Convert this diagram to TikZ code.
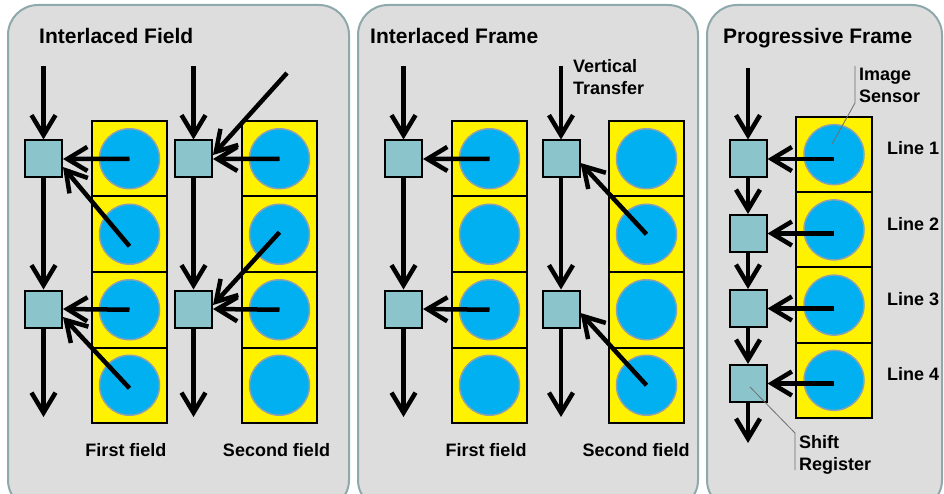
\documentclass[tikz,border=0pt]{standalone}
\usepackage{fontspec}
\setmainfont{Liberation Sans}
\usetikzlibrary{arrows.meta}
\definecolor{panelfill}{RGB}{221,221,221}
\definecolor{paneldraw}{RGB}{143,168,172}
\definecolor{regfill}{RGB}{140,196,204}
\definecolor{sensorfill}{RGB}{0,176,240}
\definecolor{sensordraw}{RGB}{140,160,175}
\definecolor{leader}{RGB}{110,110,110}
\begin{document}
\begin{tikzpicture}[x=1pt,y=-1pt,
 panel/.style={draw=paneldraw, fill=panelfill, line width=2pt, rounded corners=30pt},
 reg/.style={draw=black, fill=regfill, line width=2pt, minimum size=37pt, inner sep=0pt},
 cell/.style={draw=black, fill=yellow, line width=2pt, minimum size=75.5pt, inner sep=0pt},
 sensor/.style={circle, draw=sensordraw, fill=sensorfill, line width=1.5pt, minimum size=60pt, inner sep=0pt},
 flow/.style={line width=4.5pt, -{Straight Barb[length=20pt,width=24pt,line width=4.5pt]}},
 title/.style={font=\fontsize{21}{25}\selectfont\bfseries, anchor=base west, inner sep=0pt},
 lab/.style={font=\fontsize{18}{22}\selectfont\bfseries, inner sep=0pt},
 leadline/.style={draw=leader, line width=0.8pt}]
\useasboundingbox (0,0) rectangle (944,494);
\begin{scope}
\clip (0,0) rectangle (944,494);
\draw[panel] (8,5) rectangle (349,510);
\draw[panel] (358,5) rectangle (698,510);
\draw[panel] (707,5) rectangle (942,510);

% ---------- Panel 1: Interlaced Field ----------
\node[title] (t1) at (39,43.5) {Interlaced Field};
\foreach \i in {1,...,4} {
  \node[cell] (ca\i) at (129.5,{121+75.5*(\i-0.5)}) {};
  \node[sensor] (sa\i) at (ca\i.center) {};
  \node[cell] (cb\i) at (279.5,{121+75.5*(\i-0.5)}) {};
  \node[sensor] (sb\i) at (cb\i.center) {};
}
\node[reg] (a1) at (43.5,159) {};
\node[reg] (a2) at (43.5,309) {};
\node[reg] (b1) at (193.5,159) {};
\node[reg] (b2) at (193.5,309) {};
\coordinate (ta) at (43.5,66);
\coordinate (ea) at (43.5,417);
\coordinate (tb) at (193.5,66);
\coordinate (eb) at (193.5,417);
\coordinate (db) at (287,73);
\draw[flow] (ta) -- (a1);
\draw[flow] (a1) -- (a2);
\draw[flow] (a2) -- (ea);
\draw[flow] (tb) -- (b1);
\draw[flow] (b1) -- (b2);
\draw[flow] (b2) -- (eb);
\draw[flow] (sa1.center) -- (a1.east);
\draw[flow] ([yshift=-12pt]sa2.center) -- ([yshift=-8pt]a1.east);
\draw[flow] (sa3.center) -- (a2.east);
\draw[flow] ([yshift=-3pt]sa4.center) -- ([yshift=-8pt]a2.east);
\draw[flow] (sb1.center) -- (b1.east);
\draw[flow] (db) -- ([yshift=4pt]b1.east);
\draw[flow] (sb3.center) -- (b2.east);
\draw[flow] ([yshift=2pt]sb2.center) -- ([yshift=4pt]b2.east);
\node[lab, anchor=base] (ff1) at (126,456) {First field};
\node[lab, anchor=base] (sf1) at (276.5,456) {Second field};

% ---------- Panel 2: Interlaced Frame ----------
\node[title] (t2) at (370,43.5) {Interlaced Frame};
\foreach \i in {1,...,4} {
  \node[cell] (cd\i) at (489.5,{121+75.5*(\i-0.5)}) {};
  \node[sensor] (sd\i) at (cd\i.center) {};
  \node[cell] (ce\i) at (646.5,{121+75.5*(\i-0.5)}) {};
  \node[sensor] (se\i) at (ce\i.center) {};
}
\node[reg] (d1) at (403.5,159) {};
\node[reg] (d2) at (403.5,309) {};
\node[reg] (e1) at (561,159) {};
\node[reg] (e2) at (561,309) {};
\coordinate (td) at (403.5,66);
\coordinate (ed) at (403.5,417);
\coordinate (te) at (561,66);
\coordinate (ee) at (561,417);
\draw[flow] (td) -- (d1);
\draw[flow] (d1) -- (d2);
\draw[flow] (d2) -- (ed);
\draw[flow] (te) -- (e1);
\draw[flow] (e1) -- (e2);
\draw[flow] (e2) -- (ee);
\draw[flow] (sd1.center) -- (d1.east);
\draw[flow] (sd3.center) -- (d2.east);
\draw[flow] (se2.center) -- ([yshift=-4pt]e1.east);
\draw[flow] (se4.center) -- ([yshift=-4pt]e2.east);
\node[lab, anchor=north west, align=left] (vt) at (573,59.5) {Vertical\\Transfer};
\node[lab, anchor=base] (ff2) at (486,456) {First field};
\node[lab, anchor=base] (sf2) at (636,456) {Second field};

% ---------- Panel 3: Progressive Frame ----------
\node[title] (t3) at (723,43.5) {Progressive Frame};
\foreach \i in {1,...,4} {
  \node[cell] (cg\i) at (834,{117+75.25*(\i-0.5)}) {};
  \node[sensor] (sg\i) at (cg\i.center) {};
}
\node[reg] (f1) at (748,159) {};
\node[reg] (f2) at (748,233.5) {};
\node[reg] (f3) at (748,308.5) {};
\node[reg] (f4) at (748,383.5) {};
\coordinate (tf) at (748,68);
\coordinate (ef) at (748,443);
\draw[flow] (tf) -- (f1);
\draw[flow] (f1) -- (f2);
\draw[flow] (f2) -- (f3);
\draw[flow] (f3) -- (f4);
\draw[flow] (f4) -- (ef);
\foreach \i in {1,...,4} {
  \draw[flow] (sg\i.center |- f\i.center) -- (f\i.east);
}
\node[lab, anchor=base west] (l1) at (887,155) {Line 1};
\node[lab, anchor=base west] (l2) at (887,230) {Line 2};
\node[lab, anchor=base west] (l3) at (887,305) {Line 3};
\node[lab, anchor=base west] (l4) at (887,380) {Line 4};
\node[lab, anchor=north west, align=left] (is) at (859,67.5) {Image\\Sensor};
\node[lab, anchor=north west, align=left] (sr) at (799,435.3) {Shift\\Register};
\coordinate (isa) at (855,66);
\coordinate (isb) at (855,103);
\coordinate (isp) at (832,144);
\draw[leadline] (isa) -- (isb) -- (isp);
\coordinate (srp) at (750,387);
\coordinate (sra) at (795,433);
\coordinate (srb) at (795,470);
\draw[leadline] (srp) -- (sra) -- (srb);
\end{scope}
\end{tikzpicture}
\end{document}
